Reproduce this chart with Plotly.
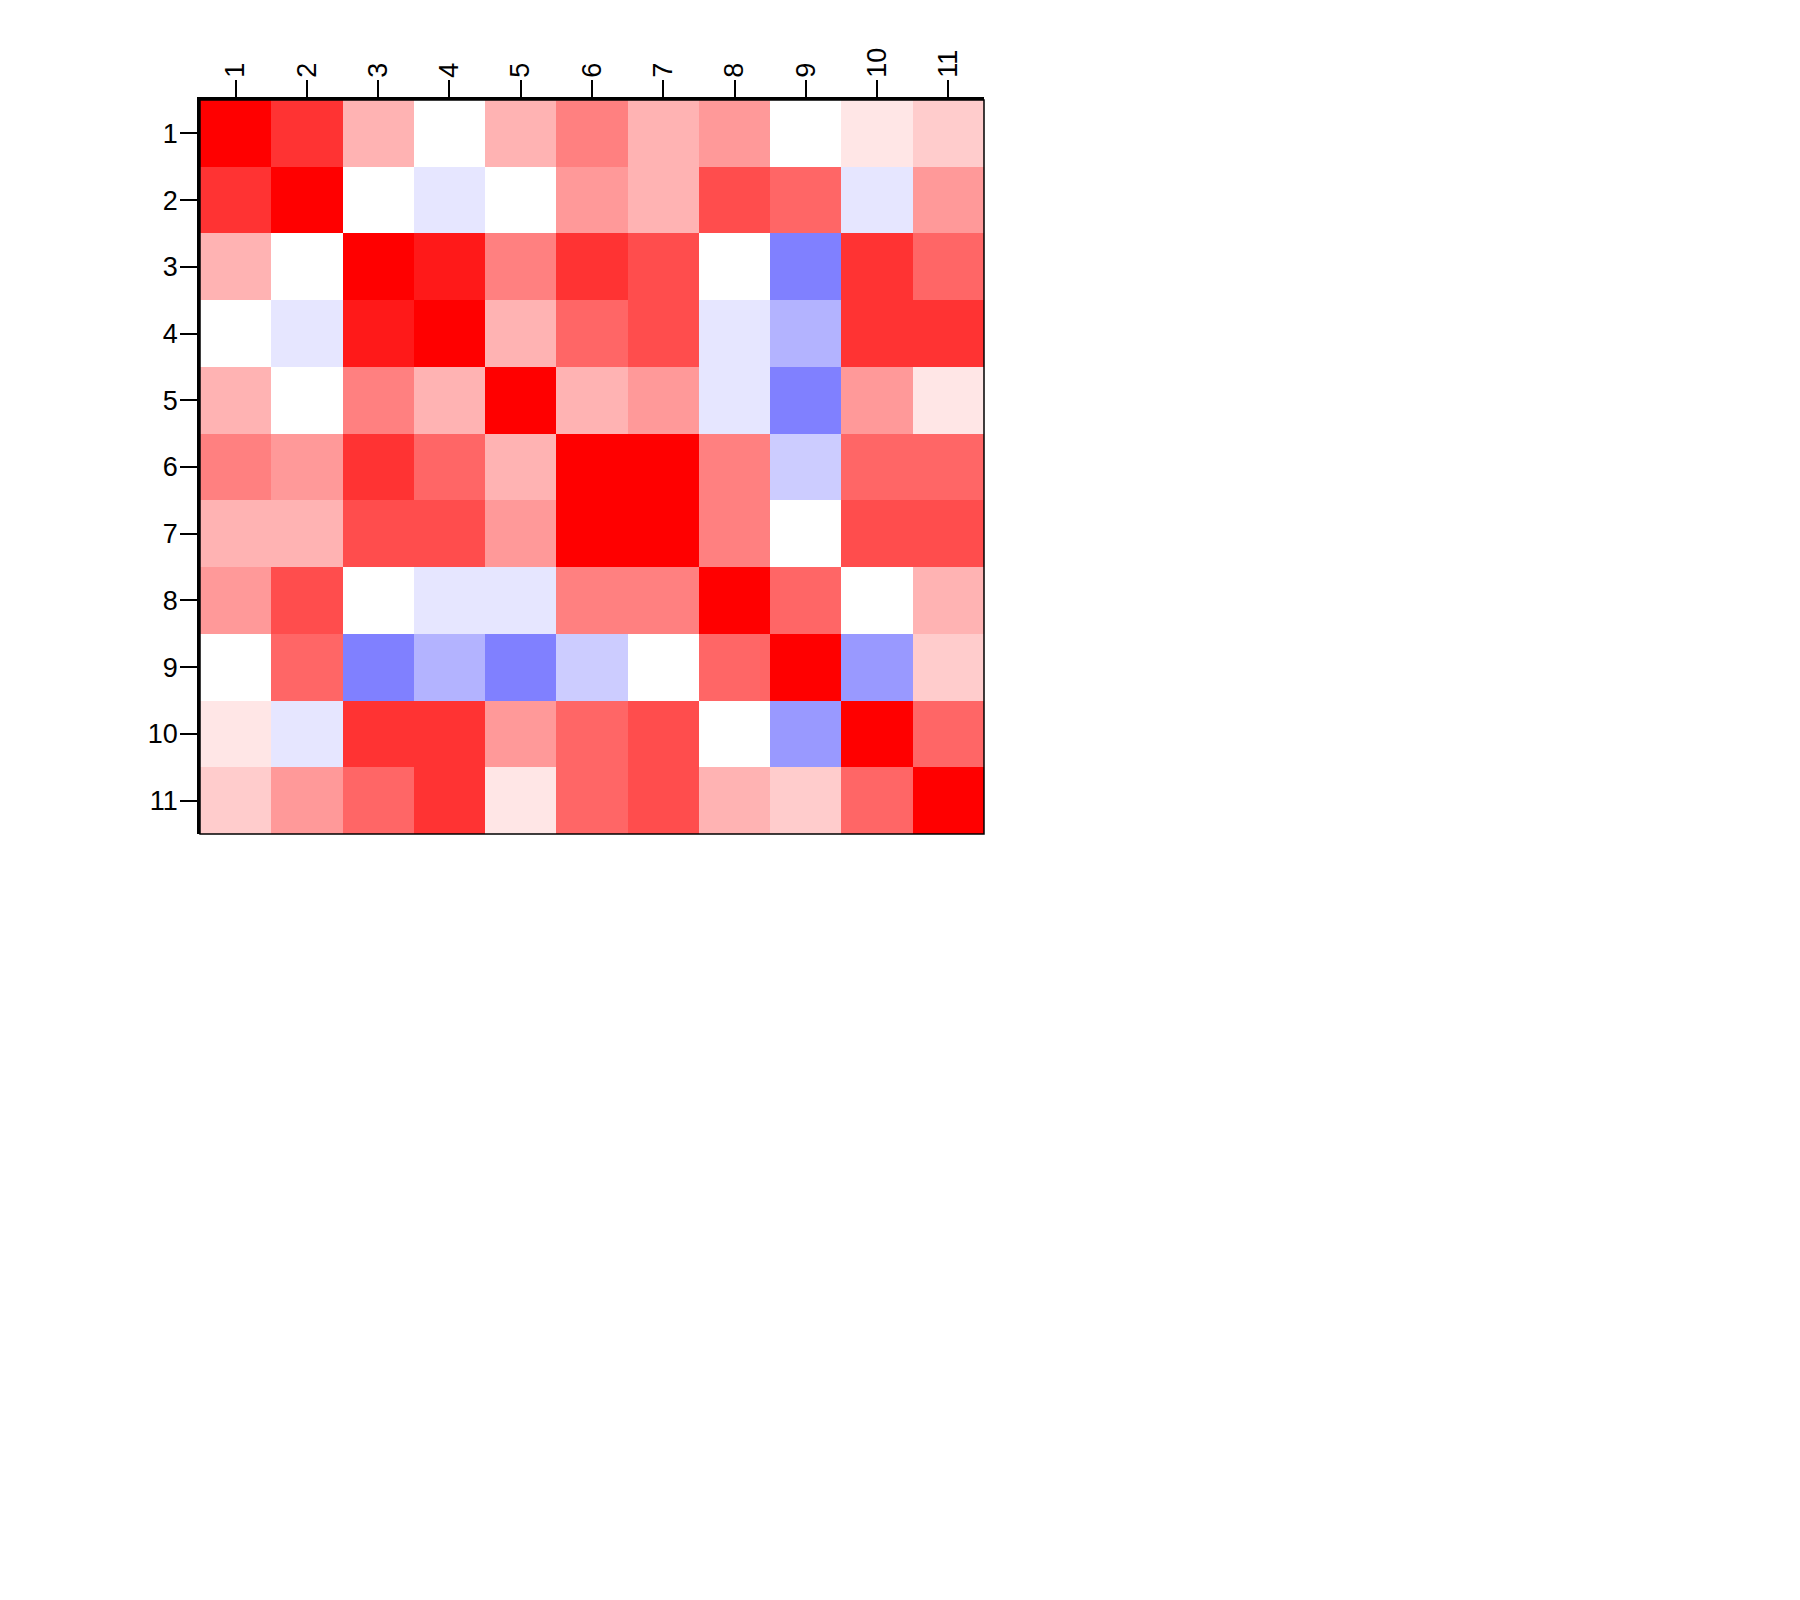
import plotly.graph_objects as go

labels = [str(i) for i in range(1, 12)]

row1 = [1.0, 0.8, 0.3, 0.0, 0.3, 0.5, 0.3, 0.4, 0.0, 0.1, 0.2]
row2 = [0.8, 1.0, 0.0, -0.1, 0.0, 0.4, 0.3, 0.7, 0.6, -0.1, 0.4]
row3 = [0.3, 0.0, 1.0, 0.9, 0.5, 0.8, 0.7, 0.0, -0.5, 0.8, 0.6]
row4 = [0.0, -0.1, 0.9, 1.0, 0.3, 0.6, 0.7, -0.1, -0.3, 0.8, 0.8]
row5 = [0.3, 0.0, 0.5, 0.3, 1.0, 0.3, 0.4, -0.1, -0.5, 0.4, 0.1]
row6 = [0.5, 0.4, 0.8, 0.6, 0.3, 1.0, 1.0, 0.5, -0.2, 0.6, 0.6]
row7 = [0.3, 0.3, 0.7, 0.7, 0.4, 1.0, 1.0, 0.5, 0.0, 0.7, 0.7]
row8 = [0.4, 0.7, 0.0, -0.1, -0.1, 0.5, 0.5, 1.0, 0.6, 0.0, 0.3]
row9 = [0.0, 0.6, -0.5, -0.3, -0.5, -0.2, 0.0, 0.6, 1.0, -0.4, 0.2]
row10 = [0.1, -0.1, 0.8, 0.8, 0.4, 0.6, 0.7, 0.0, -0.4, 1.0, 0.6]
row11 = [0.2, 0.4, 0.6, 0.8, 0.1, 0.6, 0.7, 0.3, 0.2, 0.6, 1.0]

z = [row1, row2, row3, row4, row5, row6, row7, row8, row9, row10, row11]

fig = go.Figure(
    go.Heatmap(
        z=z,
        x=labels,
        y=labels,
        zmin=-1,
        zmax=1,
        colorscale=[[0, "#0000FF"], [0.5, "#FFFFFF"], [1, "#FF0000"]],
        showscale=False,
    )
)

font = dict(family="Liberation Sans, Arial, Helvetica, sans-serif", size=27, color="black")

fig.update_layout(
    width=1800,
    height=1600,
    autosize=False,
    margin=dict(l=192, r=824, t=92, b=774, pad=0),
    plot_bgcolor="white",
    paper_bgcolor="white",
    font=font,
    xaxis=dict(
        side="top",
        type="category",
        tickangle=-90,
        ticks="outside",
        ticklen=17,
        tickwidth=2.2,
        tickcolor="black",
        showline=True,
        linewidth=2.5,
        linecolor="black",
        showgrid=False,
        zeroline=False,
        ticklabelstandoff=-3,
    ),
    yaxis=dict(
        type="category",
        autorange="reversed",
        ticks="outside",
        ticklen=17,
        tickwidth=2.2,
        tickcolor="black",
        showline=True,
        linewidth=2.5,
        linecolor="black",
        showgrid=False,
        zeroline=False,
        ticklabelstandoff=-3,
    ),
    shapes=[
        dict(
            type="rect", xref="paper", yref="paper", x0=0, y0=0, x1=1, y1=1,
            line=dict(color="black", width=1.5), fillcolor="rgba(0,0,0,0)", layer="above",
        )
    ],
)

fig.write_html("out.html")
